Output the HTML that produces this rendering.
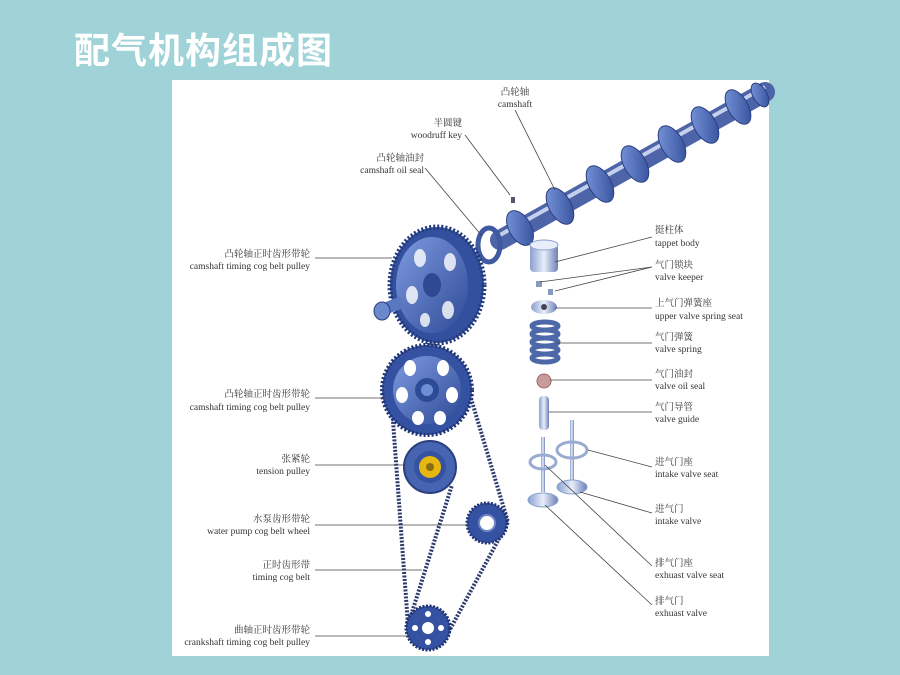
<!DOCTYPE html>
<html><head><meta charset="utf-8"><style>
body{margin:0;width:900px;height:675px;background:#9fd3d8;overflow:hidden;font-family:"Liberation Serif","Noto Serif CJK SC",serif}
.t{position:absolute;left:74px;top:22px;font:bold 36px "Liberation Sans","Noto Sans CJK SC",sans-serif;color:#fff;letter-spacing:1px}
svg{position:absolute;left:0;top:0}
text{font-family:"Liberation Serif","Noto Serif CJK SC",serif;font-size:9.5px;fill:#333}
</style></head><body>
<div class="t">配气机构组成图</div>
<svg width="900" height="675">
<defs>
<linearGradient id="b" x1="0" y1="0" x2="1" y2="1"><stop offset="0" stop-color="#7e9be0"/><stop offset="1" stop-color="#2e4a96"/></linearGradient>
<linearGradient id="s" x1="0" y1="0" x2="1" y2="0"><stop offset="0" stop-color="#8aa0d0"/><stop offset=".5" stop-color="#e8eefa"/><stop offset="1" stop-color="#6c80b8"/></linearGradient>
</defs>
<rect x="172" y="80" width="597" height="576" fill="#fff"/>
<!-- camshaft -->
<line x1="500" y1="240" x2="765" y2="92" stroke="#4d64a8" stroke-width="20" stroke-linecap="round"/>
<line x1="500" y1="235" x2="765" y2="87" stroke="#c5d0ee" stroke-width="4"/>
<g fill="url(#b)" stroke="#2c3f80" stroke-width="1">
<ellipse cx="520" cy="228" rx="11" ry="19" transform="rotate(-30 520 228)"/>
<ellipse cx="560" cy="206" rx="11" ry="20" transform="rotate(-30 560 206)"/>
<ellipse cx="600" cy="184" rx="11" ry="20" transform="rotate(-30 600 184)"/>
<ellipse cx="635" cy="164" rx="11" ry="20" transform="rotate(-30 635 164)"/>
<ellipse cx="672" cy="144" rx="11" ry="20" transform="rotate(-30 672 144)"/>
<ellipse cx="705" cy="125" rx="11" ry="20" transform="rotate(-30 705 125)"/>
<ellipse cx="738" cy="107" rx="10" ry="19" transform="rotate(-30 738 107)"/>
<ellipse cx="760" cy="95" rx="7" ry="13" transform="rotate(-30 760 95)"/>
</g>
<rect x="511" y="197" width="4" height="6" fill="#556"/>
<!-- oil seal -->
<ellipse cx="489" cy="245" rx="11" ry="17" fill="none" stroke="#3f5aa0" stroke-width="5"/>
<!-- big cam pulley -->
<ellipse cx="437" cy="285" rx="47" ry="58" fill="#33509e" stroke="#223a7a" stroke-width="5" stroke-dasharray="2 2"/>
<ellipse cx="432" cy="285" rx="36" ry="48" fill="url(#b)"/>
<g fill="#fff" opacity=".8"><ellipse cx="420" cy="258" rx="6" ry="9"/><ellipse cx="450" cy="262" rx="6" ry="9"/><ellipse cx="412" cy="295" rx="6" ry="9"/><ellipse cx="448" cy="310" rx="6" ry="9"/><ellipse cx="425" cy="320" rx="5" ry="7"/></g>
<ellipse cx="432" cy="285" rx="9" ry="12" fill="#2e4a90"/>
<rect x="380" y="300" width="24" height="12" rx="4" fill="#5a78c0" transform="rotate(-20 392 306)"/>
<ellipse cx="382" cy="311" rx="8" ry="9" fill="#6a88cc" stroke="#2c3f80"/>
<!-- belt -->
<path d="M390 380 L408 625 M470 395 L508 522 L447 635 M408 625 L452 485" fill="none" stroke="#2c3a6e" stroke-width="4" stroke-dasharray="2 1.5"/>
<!-- pulley 2 -->
<circle cx="427" cy="390" r="45" fill="#3552a2" stroke="#1f3272" stroke-width="4" stroke-dasharray="2 2"/>
<circle cx="427" cy="390" r="34" fill="url(#b)"/>
<g fill="#fff"><ellipse cx="410" cy="368" rx="6" ry="8"/><ellipse cx="443" cy="368" rx="6" ry="8"/><ellipse cx="402" cy="395" rx="6" ry="8"/><ellipse cx="452" cy="395" rx="6" ry="8"/><ellipse cx="418" cy="418" rx="6" ry="7"/><ellipse cx="440" cy="418" rx="6" ry="7"/></g>
<circle cx="427" cy="390" r="12" fill="#2d4a96"/><circle cx="427" cy="390" r="6" fill="#6d8fd4"/>
<!-- tension -->
<circle cx="430" cy="467" r="26" fill="#4764b0" stroke="#2c3f80" stroke-width="2"/>
<circle cx="430" cy="467" r="16" fill="#3552a2"/>
<circle cx="430" cy="467" r="11" fill="#e6b70f"/><circle cx="430" cy="467" r="4" fill="#8a6d10"/>
<!-- water pump -->
<circle cx="487" cy="523" r="20" fill="#3552a2" stroke="#1f3272" stroke-width="3" stroke-dasharray="2 1.5"/>
<circle cx="487" cy="523" r="8" fill="#fff" stroke="#6f86c4" stroke-width="2"/>
<!-- crank -->
<circle cx="428" cy="628" r="22" fill="#3552a2" stroke="#1f3272" stroke-width="3" stroke-dasharray="2 1.5"/>
<circle cx="428" cy="628" r="6" fill="#fff"/><circle cx="428" cy="614" r="3" fill="#fff"/><circle cx="428" cy="642" r="3" fill="#fff"/><circle cx="415" cy="628" r="3" fill="#fff"/><circle cx="441" cy="628" r="3" fill="#fff"/>
<!-- valve parts -->
<rect x="530" y="244" width="28" height="28" rx="4" fill="url(#s)"/><ellipse cx="544" cy="245" rx="14" ry="5" fill="#e8eefa" stroke="#8aa0d0"/>
<rect x="536" y="281" width="6" height="6" fill="#8899bb"/><rect x="548" y="289" width="5" height="6" fill="#8899bb"/>
<ellipse cx="544" cy="307" rx="13" ry="7" fill="url(#s)"/><circle cx="544" cy="307" r="3" fill="#445"/>
<g fill="none" stroke="#4d68a8" stroke-width="5"><ellipse cx="545" cy="326" rx="13" ry="4"/><ellipse cx="545" cy="334" rx="13" ry="4"/><ellipse cx="545" cy="342" rx="13" ry="4"/><ellipse cx="545" cy="350" rx="13" ry="4"/><ellipse cx="545" cy="358" rx="13" ry="4"/></g>
<circle cx="544" cy="381" r="7" fill="#c99a9a" stroke="#a06a6a"/>
<rect x="539" y="396" width="10" height="34" rx="4" fill="url(#s)"/>
<rect x="541" y="437" width="4" height="55" fill="url(#s)"/><ellipse cx="543" cy="500" rx="15" ry="7" fill="url(#s)" stroke="#8aa0d0"/>
<ellipse cx="543" cy="462" rx="13" ry="7" fill="none" stroke="#9aaad0" stroke-width="3"/>
<rect x="570" y="420" width="4" height="60" fill="url(#s)"/><ellipse cx="572" cy="487" rx="15" ry="7" fill="url(#s)" stroke="#8aa0d0"/>
<ellipse cx="572" cy="450" rx="15" ry="8" fill="none" stroke="#9aaad0" stroke-width="3"/>
<!-- leaders -->
<g stroke="#444" stroke-width=".8" fill="none">
<line x1="515" y1="110" x2="555" y2="190"/>
<line x1="465" y1="135" x2="510" y2="195"/>
<line x1="425" y1="168" x2="482" y2="236"/>
<line x1="315" y1="258" x2="392" y2="258"/>
<line x1="315" y1="398" x2="385" y2="398"/>
<line x1="315" y1="465" x2="405" y2="465"/>
<line x1="315" y1="525" x2="470" y2="525"/>
<line x1="315" y1="570" x2="422" y2="570"/>
<line x1="315" y1="636" x2="410" y2="636"/>
<line x1="652" y1="237" x2="555" y2="262"/>
<line x1="652" y1="267" x2="540" y2="282"/>
<line x1="652" y1="267" x2="555" y2="291"/>
<line x1="652" y1="308" x2="555" y2="308"/>
<line x1="652" y1="343" x2="556" y2="343"/>
<line x1="652" y1="380" x2="550" y2="380"/>
<line x1="652" y1="412" x2="549" y2="412"/>
<line x1="652" y1="467" x2="588" y2="450"/>
<line x1="652" y1="513" x2="580" y2="492"/>
<line x1="652" y1="566" x2="545" y2="465"/>
<line x1="652" y1="605" x2="545" y2="505"/>
</g>
<!-- labels -->
<g>
<text x="515" y="95" text-anchor="middle">凸轮轴</text><text x="515" y="107" text-anchor="middle">camshaft</text>
<text x="462" y="126" text-anchor="end">半圆键</text><text x="462" y="138" text-anchor="end">woodruff key</text>
<text x="424" y="161" text-anchor="end">凸轮轴油封</text><text x="424" y="173" text-anchor="end">camshaft oil seal</text>
<text x="310" y="257" text-anchor="end">凸轮轴正时齿形带轮</text><text x="310" y="269" text-anchor="end">camshaft timing cog belt pulley</text>
<text x="310" y="397" text-anchor="end">凸轮轴正时齿形带轮</text><text x="310" y="410" text-anchor="end">camshaft timing cog belt pulley</text>
<text x="310" y="462" text-anchor="end">张紧轮</text><text x="310" y="474" text-anchor="end">tension pulley</text>
<text x="310" y="522" text-anchor="end">水泵齿形带轮</text><text x="310" y="534" text-anchor="end">water pump cog belt wheel</text>
<text x="310" y="568" text-anchor="end">正时齿形带</text><text x="310" y="580" text-anchor="end">timing cog belt</text>
<text x="310" y="633" text-anchor="end">曲轴正时齿形带轮</text><text x="310" y="645" text-anchor="end">crankshaft timing cog belt pulley</text>
<text x="655" y="233">挺柱体</text><text x="655" y="246">tappet body</text>
<text x="655" y="268">气门锁块</text><text x="655" y="280">valve keeper</text>
<text x="655" y="306">上气门弹簧座</text><text x="655" y="319">upper valve spring seat</text>
<text x="655" y="340">气门弹簧</text><text x="655" y="352">valve spring</text>
<text x="655" y="377">气门油封</text><text x="655" y="389">valve oil seal</text>
<text x="655" y="410">气门导管</text><text x="655" y="422">valve guide</text>
<text x="655" y="465">进气门座</text><text x="655" y="477">intake valve seat</text>
<text x="655" y="512">进气门</text><text x="655" y="524">intake valve</text>
<text x="655" y="566">排气门座</text><text x="655" y="578">exhuast valve seat</text>
<text x="655" y="604">排气门</text><text x="655" y="616">exhuast valve</text>
</g>
</svg>
</body></html>
